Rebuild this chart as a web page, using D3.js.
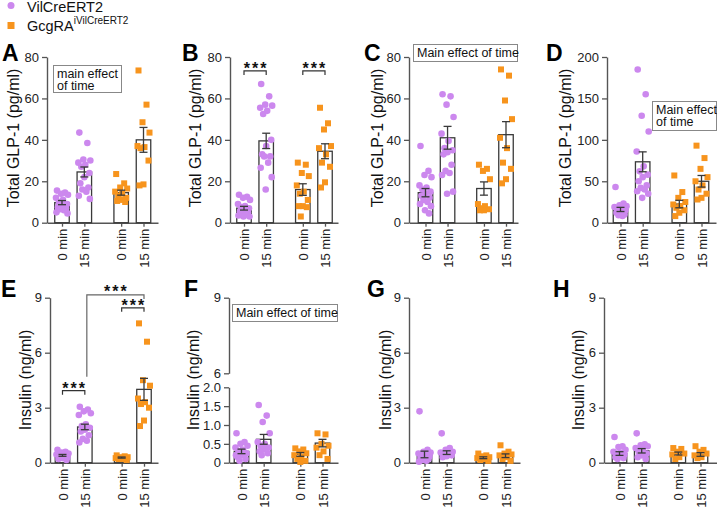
<!DOCTYPE html>
<html><head><meta charset="utf-8">
<script src="https://cdn.jsdelivr.net/npm/d3@7"></script>
<style>
body{margin:0;background:#fff}
svg{display:block}
text{font-family:"Liberation Sans",Arial,sans-serif}
</style>
</head><body>
<svg id="chart" width="717" height="509"></svg>
<script>
// ---------- DATA ----------
const groupLabels = ["0 min", "15 min", "0 min", "15 min"];
const seriesNames = ["VilCreERT2", "GcgRA"];
const seriesSup = ["", "iVilCreERT2"];
const glpTitle = "Total GLP-1 (pg/ml)";
const insTitle = "Insulin (ng/ml)";
const noteA = ["main effect", "of time"];
const noteC = ["Main effect of time"];
const noteD = ["Main effect", "of time"];
const noteF = ["Main effect of time"];
const sigLabel = "***";

const glpTicks = [0, 20, 40, 60, 80];
const glpTicksD = [0, 50, 100, 150, 200];
const insTicks = [0, 3, 6, 9];
const insTicksFLow = [0, 0.5, 1.0, 1.5, 2.0];
const insTicksFHigh = [6, 9];

// Panel A (GLP-1)
const aVil0 = [15.5, 14.5, 14, 13.5, 12, 11, 10, 9, 8, 7.5, 7, 6.5, 6, 5, 4.5];
const aVil15 = [43.5, 38.5, 30.5, 30, 29, 28, 27, 24, 22, 19, 17, 16, 15, 13, 11.5];
const aGcg0 = [23.5, 19, 17, 16.5, 15, 14, 13, 12, 11, 10.5, 10];
const aGcg15 = [73.5, 57, 48.5, 43.5, 37, 36.5, 36, 30, 18.5, 18];
const aMeans = [9.7, 24.5, 14.5, 40];
const aSem = [1.0, 2.4, 1.2, 6];
// Panel B
const bVil0 = [13.5, 12.5, 12, 11, 9, 8, 7.5, 7, 6, 5.5, 5, 4.5, 4, 3.5, 3, 3];
const bVil15 = [67, 61, 57, 56.5, 55.5, 54, 52.5, 40, 37, 33, 32, 32, 29, 26.5, 22, 16];
const bGcg0 = [29, 28, 24, 22.5, 18, 15, 14, 11, 8, 8, 7.5, 3];
const bGcg15 = [55.5, 48, 45, 37, 36, 33, 29, 27, 19.5, 17];
const bMeans = [7, 39.5, 16, 34.5];
const bSem = [0.9, 3.7, 2.8, 3.6];
// Panel C
const cVil0 = [37, 25, 23, 22, 18, 17, 16, 15, 14, 13, 12, 11, 10, 9, 8, 6, 4.5];
const cVil15 = [62, 61, 57, 51, 43, 39.5, 36, 35, 34, 33, 28, 25, 24, 23, 15, 14];
const cGcg0 = [28, 26, 25, 21, 9, 8, 7, 6.5, 6, 6];
const cGcg15 = [74, 71, 59, 50, 41, 36, 29, 26, 21, 19];
const cMeans = [14.5, 41, 16.5, 42.5];
const cSem = [2, 5.5, 3.2, 6.3];
// Panel D
const dVil0 = [43, 23, 21, 20, 19, 17, 16, 15, 14, 12, 10, 9, 8];
const dVil15 = [185, 155, 129, 110, 86, 68, 62, 58, 55, 50, 45, 42, 40, 38, 35, 30];
const dGcg0 = [57, 37, 30, 25, 22, 20, 18, 15, 12, 8];
const dGcg15 = [93, 78, 65, 55, 50, 45, 40, 35, 30, 28];
const dMeans = [16, 73.5, 22.5, 50];
const dSem = [2.5, 12, 4.5, 7];
// Panel E (insulin)
const eVil0 = [0.7, 0.6, 0.55, 0.5, 0.45, 0.4, 0.35, 0.3, 0.25, 0.2, 0.15, 0.3, 0.4];
const eVil15 = [3.05, 2.9, 2.8, 2.7, 2.6, 2.1, 2.0, 1.9, 1.8, 1.7, 1.5, 1.3, 1.2, 1.1];
const eGcg0 = [0.4, 0.35, 0.3, 0.3, 0.25, 0.2, 0.2, 0.15];
const eGcg15 = [7.6, 6.6, 4.5, 4.2, 3.5, 3.3, 3.2, 3.0, 2.3, 2.0];
const eMeans = [0.4, 1.95, 0.28, 4.0];
const eSem = [0.05, 0.15, 0.03, 0.6];
// Panel F
const fVil0 = [0.78, 0.55, 0.5, 0.45, 0.4, 0.35, 0.3, 0.25, 0.2, 0.15, 0.1, 0.05, 0.3, 0.2];
const fVil15 = [1.53, 1.25, 1.08, 0.78, 0.55, 0.5, 0.45, 0.4, 0.35, 0.3, 0.25, 0.2];
const fGcg0 = [0.38, 0.35, 0.3, 0.25, 0.2, 0.15, 0.1, 0.05, 0.02];
const fGcg15 = [0.78, 0.75, 0.5, 0.45, 0.4, 0.3, 0.2, 0.1];
const fMeans = [0.3, 0.62, 0.22, 0.52];
const fSem = [0.06, 0.13, 0.05, 0.1];
// Panel G
const gVil0 = [2.8, 0.7, 0.6, 0.55, 0.5, 0.45, 0.4, 0.35, 0.3, 0.25, 0.2, 0.15, 0.1, 0.05];
const gVil15 = [1.6, 0.8, 0.7, 0.6, 0.55, 0.5, 0.45, 0.4, 0.35, 0.3];
const gGcg0 = [0.5, 0.4, 0.35, 0.3, 0.25, 0.2, 0.15, 0.1];
const gGcg15 = [0.95, 0.6, 0.5, 0.45, 0.4, 0.3, 0.2, 0.1];
const gMeans = [0.45, 0.55, 0.27, 0.38];
const gSem = [0.18, 0.1, 0.05, 0.1];
// Panel H
const hVil0 = [1.4, 0.9, 0.85, 0.7, 0.6, 0.55, 0.5, 0.45, 0.4, 0.3, 0.25, 0.2];
const hVil15 = [1.6, 1.0, 0.95, 0.9, 0.8, 0.7, 0.6, 0.5, 0.4, 0.3, 0.2];
const hGcg0 = [0.8, 0.75, 0.6, 0.5, 0.45, 0.3, 0.2];
const hGcg15 = [0.9, 0.7, 0.6, 0.5, 0.4, 0.3, 0.25];
const hMeans = [0.5, 0.65, 0.5, 0.45];
const hSem = [0.1, 0.12, 0.08, 0.1];

// significance brackets (group indices, height in data units)
const bBrackets = [{a: 0, b: 1, y: 73.3}, {a: 2, b: 3, y: 73.3}];
const eBrackets = [{a: 0, b: 1, y: 3.93}, {a: 2, b: 3, y: 8.45}];
const eLongBracket = {a: 1, b: 3, y: 9.15, legA: 4.69, legB: 8.93};

// ---------- LAYOUT / STYLE ----------
const purple = "#cc88ee", orange = "#f7941d";
const barStroke = "#3a3a3a", axisColor = "#555";
const rows = [{top: 57, bot: 222.7, titleY: 138}, {top: 297.7, bot: 462.7, titleY: 380}];
const slots = [0, 1, 2.65, 3.65];
const barW = 14.5;
const jit = [-5, 3, -1, 6, -6, 1, -3, 5, 0, -4, 4, -2, 2, -5.5, 5.5, -0.5, 3.5];

const panels = [
  {letter: "A", row: 0, axisX: 47, c0: 62, c3: 143.5, xEnd: 158, letterX: 2, titleX: 13,
   pts: [aVil0, aVil15, aGcg0, aGcg15], means: aMeans, sem: aSem, domain: [0, 80], ticks: glpTicks, title: glpTitle,
   note: {lines: noteA, x: 53, y: 65, w: 68, h: 27}},
  {letter: "B", row: 0, axisX: 230, c0: 244, c3: 325, xEnd: 338, letterX: 182, titleX: 195,
   pts: [bVil0, bVil15, bGcg0, bGcg15], means: bMeans, sem: bSem, domain: [0, 80], ticks: glpTicks, title: glpTitle,
   brackets: bBrackets},
  {letter: "C", row: 0, axisX: 409, c0: 425.5, c3: 506, xEnd: 518, letterX: 364, titleX: 377,
   pts: [cVil0, cVil15, cGcg0, cGcg15], means: cMeans, sem: cSem, domain: [0, 80], ticks: glpTicks, title: glpTitle,
   note: {lines: noteC, x: 413, y: 44, w: 104, h: 17}},
  {letter: "D", row: 0, axisX: 607, c0: 620.5, c3: 701.5, xEnd: 716, letterX: 546, titleX: 565,
   pts: [dVil0, dVil15, dGcg0, dGcg15], means: dMeans, sem: dSem, domain: [0, 200], ticks: glpTicksD, title: glpTitle,
   note: {lines: noteD, x: 652, y: 101, w: 64, h: 29}},
  {letter: "E", row: 1, axisX: 50, c0: 62.5, c3: 144, xEnd: 158, letterX: 1, titleX: 25,
   pts: [eVil0, eVil15, eGcg0, eGcg15], means: eMeans, sem: eSem, domain: [0, 9], ticks: insTicks, title: insTitle,
   brackets: eBrackets, longBracket: eLongBracket},
  {letter: "F", row: 1, axisX: 229, c0: 241.5, c3: 322.5, xEnd: 338, letterX: 184, titleX: 193,
   pts: [fVil0, fVil15, fGcg0, fGcg15], means: fMeans, sem: fSem, broken: true, title: insTitle,
   note: {lines: noteF, x: 232, y: 304, w: 105, h: 17}},
  {letter: "G", row: 1, axisX: 409, c0: 424.5, c3: 505.5, xEnd: 520, letterX: 367, titleX: 385,
   pts: [gVil0, gVil15, gGcg0, gGcg15], means: gMeans, sem: gSem, domain: [0, 9], ticks: insTicks, title: insTitle},
  {letter: "H", row: 1, axisX: 604, c0: 619.5, c3: 700.5, xEnd: 717, letterX: 553, titleX: 578,
   pts: [hVil0, hVil15, hGcg0, hGcg15], means: hMeans, sem: hSem, domain: [0, 9], ticks: insTicks, title: insTitle}
];

const svg = d3.select("#chart");

function styleAxis(g) {
  g.select(".domain").attr("stroke", axisColor).attr("stroke-width", 1.4);
  g.selectAll(".tick line").attr("stroke", axisColor).attr("stroke-width", 1.3);
  g.selectAll(".tick text").attr("fill", "#222").style("font-size", "13px");
}

panels.forEach(p => {
  const r = rows[p.row];
  const g = svg.append("g");
  const xs = d3.scaleLinear().domain([0, 3.65]).range([p.c0, p.c3]);
  const x = d3.scaleLinear().domain([xs.invert(p.axisX), xs.invert(p.xEnd)]).range([p.axisX, p.xEnd]);

  let y;
  if (p.broken) {
    const yLow = d3.scaleLinear().domain([0, 2]).range([r.bot, 387.3]);
    const yHigh = d3.scaleLinear().domain([6, 9]).range([373.3, r.top]);
    y = yLow;
    g.append("g").attr("transform", `translate(${p.axisX},0)`)
      .call(d3.axisLeft(yLow).tickValues(insTicksFLow).tickSize(5).tickSizeOuter(0)
        .tickFormat(d => d === 0 ? "0" : d3.format(".1f")(d)))
      .call(styleAxis);
    g.append("g").attr("transform", `translate(${p.axisX},0)`)
      .call(d3.axisLeft(yHigh).tickValues(insTicksFHigh).tickSize(5).tickSizeOuter(0)
        .tickFormat(d3.format("d")))
      .call(styleAxis);
  } else {
    y = d3.scaleLinear().domain(p.domain).range([r.bot, r.top]);
    g.append("g").attr("transform", `translate(${p.axisX},0)`)
      .call(d3.axisLeft(y).tickValues(p.ticks).tickSize(5).tickSizeOuter(0)
        .tickFormat(d3.format("d")))
      .call(styleAxis);
  }

  // x axis
  const xa = g.append("g").attr("transform", `translate(0,${r.bot})`)
    .call(d3.axisBottom(x).tickValues(slots).tickSize(4).tickSizeOuter(0)
      .tickFormat((d, i) => groupLabels[i]))
    .call(styleAxis);
  xa.selectAll(".tick text")
    .attr("transform", "rotate(-90)")
    .attr("text-anchor", "end")
    .attr("x", -6).attr("y", 0).attr("dy", "0.35em");

  // bars
  g.selectAll("rect.bar").data(p.means).join("rect").attr("class", "bar")
    .attr("x", (d, i) => x(slots[i]) - barW / 2)
    .attr("y", d => y(d))
    .attr("width", barW)
    .attr("height", d => r.bot - y(d))
    .attr("fill", "#fff").attr("stroke", barStroke).attr("stroke-width", 1.3);

  // points
  p.pts.forEach((arr, gi) => {
    const cx = x(slots[gi]);
    if (gi < 2) {
      g.selectAll(null).data(arr).join("circle")
        .attr("cx", (d, i) => cx + jit[i % jit.length])
        .attr("cy", d => y(d)).attr("r", 3.3).attr("fill", purple);
    } else {
      g.selectAll(null).data(arr).join("rect")
        .attr("x", (d, i) => cx + jit[i % jit.length] - 3)
        .attr("y", d => y(d) - 3).attr("width", 6).attr("height", 6).attr("fill", orange);
    }
  });

  // error bars
  p.means.forEach((m, i) => {
    const cx = x(slots[i]);
    const s = p.sem[i];
    const eg = g.append("g").attr("stroke", barStroke).attr("stroke-width", 1.3);
    eg.append("line").attr("x1", cx).attr("x2", cx).attr("y1", y(m - s)).attr("y2", y(m + s));
    eg.append("line").attr("x1", cx - 4).attr("x2", cx + 4).attr("y1", y(m + s)).attr("y2", y(m + s));
    eg.append("line").attr("x1", cx - 4).attr("x2", cx + 4).attr("y1", y(m - s)).attr("y2", y(m - s));
  });

  // y title
  g.append("text")
    .attr("transform", `translate(${p.titleX},${r.titleY}) rotate(-90)`)
    .attr("text-anchor", "middle").attr("dy", "0.35em")
    .style("font-size", "16px").attr("fill", "#111").text(p.title);

  // panel letter
  g.append("text").attr("x", p.letterX).attr("y", p.row === 0 ? 61 : 297)
    .style("font-size", "23px").style("font-weight", "bold").attr("fill", "#000").text(p.letter);

  // note box
  if (p.note) {
    const n = p.note;
    g.append("rect").attr("x", n.x + 0.5).attr("y", n.y + 0.5).attr("width", n.w).attr("height", n.h)
      .attr("fill", "#fff").attr("stroke", "#888").attr("stroke-width", 1);
    n.lines.forEach((t, i) => {
      g.append("text").attr("x", n.x + 4).attr("y", n.y + 12.5 + i * 12.5)
        .style("font-size", "12.5px").attr("fill", "#111").text(t);
    });
  }

  // brackets
  const drawStars = (cx, yy) => g.append("text").attr("x", cx).attr("y", yy)
    .attr("text-anchor", "middle").style("font-size", "16px").style("font-weight", "bold")
    .style("letter-spacing", "2px").attr("fill", "#111").text(sigLabel);
  (p.brackets || []).forEach(b => {
    const x1 = x(slots[b.a]), x2 = x(slots[b.b]), yy = y(b.y);
    g.append("path").attr("d", `M${x1},${yy + 4}V${yy}H${x2}V${yy + 4}`)
      .attr("fill", "none").attr("stroke", "#333").attr("stroke-width", 1.2);
    drawStars((x1 + x2) / 2 + 1, yy + 3);
  });
  if (p.longBracket) {
    const b = p.longBracket;
    const x1 = x(slots[b.a]) + 2, x2 = x(slots[b.b]), yy = y(b.y);
    g.append("path").attr("d", `M${x1},${y(b.legA)}V${yy}H${x2}V${y(b.legB)}`)
      .attr("fill", "none").attr("stroke", "#666").attr("stroke-width", 1.2);
    drawStars((x1 + x2) / 2 + 1, yy + 2);
  }
});

// legend
const lg = svg.append("g");
lg.append("circle").attr("cx", 11).attr("cy", 5.5).attr("r", 3.5).attr("fill", purple);
lg.append("text").attr("x", 27).attr("y", 12).style("font-size", "14.5px").attr("fill", "#111").text(seriesNames[0]);
lg.append("rect").attr("x", 7.5).attr("y", 22).attr("width", 7).attr("height", 7).attr("fill", orange);
const t2 = lg.append("text").attr("x", 27).attr("y", 31).style("font-size", "14.5px").attr("fill", "#111");
t2.append("tspan").text(seriesNames[1]);
t2.append("tspan").attr("dy", -7).style("font-size", "10px").text(seriesSup[1]);
</script>
</body></html>
